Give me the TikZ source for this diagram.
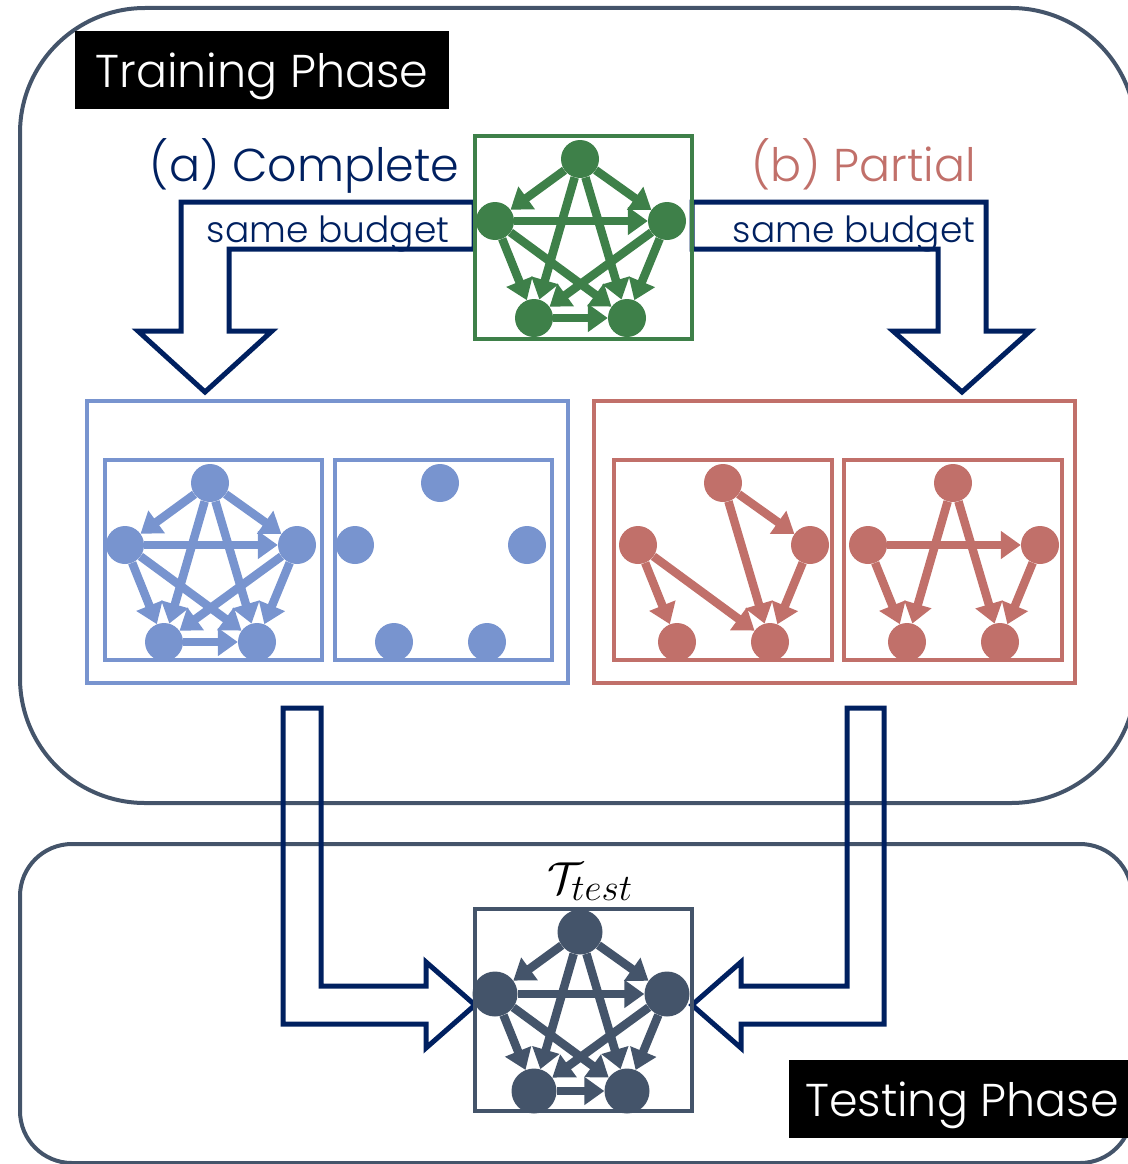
\documentclass[tikz,border=0pt]{standalone}
\usepackage{fontspec}
\setmainfont{Poppins Light}
\usetikzlibrary{arrows.meta}

\definecolor{navy}{HTML}{002060}
\definecolor{slate}{HTML}{44546A}
\definecolor{leaf}{HTML}{3E8049}
\definecolor{sky}{HTML}{7894CF}
\definecolor{rose}{HTML}{C1706A}

% five nodes of a pentagon, placed from the top left corner of their box
\newcommand{\pentanodes}[4]{%
  \begin{scope}[shift={(#2)}]
    \node[gnode, fill=#3, minimum size=#4] (#1t) at (105,23) {};
    \node[gnode, fill=#3, minimum size=#4] (#1l) at (20,85) {};
    \node[gnode, fill=#3, minimum size=#4] (#1r) at (192,85) {};
    \node[gnode, fill=#3, minimum size=#4] (#1bl) at (59,182) {};
    \node[gnode, fill=#3, minimum size=#4] (#1br) at (152,182) {};
  \end{scope}}

% all ten edges of the pentagon
\newcommand{\fullarcs}[2]{%
  \draw[gedge, #2] (#1t) edge (#1l) edge (#1r) edge (#1bl) edge (#1br)
    (#1l) edge (#1r) edge (#1bl) edge (#1br)
    (#1r) edge (#1bl) edge (#1br)
    (#1bl) edge (#1br);}

\begin{document}
\begin{tikzpicture}[
    x=1pt, y=-1pt,
    phasebox/.style={draw=slate, line width=4pt},
    phasetag/.style={fill=black, text=white, inner sep=0pt, minimum height=78pt,
      text height=34pt, text depth=0pt, font=\fontsize{46}{54}\selectfont},
    casetext/.style={font=\fontsize{46}{54}\selectfont},
    budgettext/.style={text=navy, font=\fontsize{36}{42}\selectfont},
    gbox/.style={draw, line width=4pt, anchor=north west, outer sep=0pt, inner sep=0pt},
    gnode/.style={circle, inner sep=0pt},
    gedge/.style={line width=8.5pt, -{Triangle[length=20pt, width=27pt]}},
    blockarrow/.style={draw=navy, line width=5pt, line join=miter}
    ]
\useasboundingbox (0,0) rectangle (1127,1164);

\draw[phasebox, rounded corners=125pt] (20,8) rectangle (1136,803);
\draw[phasebox, rounded corners=52pt] (20,844) rectangle (1132,1163);

\node[phasetag, minimum width=374pt] (train) at (262,70) {Training Phase};
\node[phasetag, minimum width=346pt] (test) at (962,1099) {Testing Phase};

\draw[blockarrow] (474,202) -- (181,202) -- (181,331) -- (138,331) -- (205,392)
  -- (272,331) -- (229,331) -- (229,249) -- (474,249) -- cycle;
\draw[blockarrow] (692,202) -- (986,202) -- (986,331) -- (1030,331) -- (962,392)
  -- (893,331) -- (938,331) -- (938,249) -- (692,249) -- cycle;
\draw[blockarrow] (283,708) -- (321,708) -- (321,986) -- (426,986) -- (426,962)
  -- (475,1005) -- (426,1048) -- (426,1024) -- (283,1024) -- cycle;
\draw[blockarrow] (884,708) -- (847,708) -- (847,986) -- (741,986) -- (741,962)
  -- (692,1005) -- (741,1048) -- (741,1024) -- (884,1024) -- cycle;

\node[casetext, text=navy, anchor=base east] (complete) at (463,181) {(a) Complete};
\node[casetext, text=rose, anchor=base west] (partial) at (748,181) {(b) Partial};
\node[budgettext, anchor=base] (lbudget) at (328,242) {same budget};
\node[budgettext, anchor=base] (rbudget) at (854,242) {same budget};

\node[gbox, draw=leaf, minimum width=217pt, minimum height=203pt] (src) at (475,136) {};
\node[gbox, draw=sky, minimum width=481pt, minimum height=282pt] (full) at (87,401) {};
\node[gbox, draw=sky, minimum width=217pt, minimum height=200pt] (fulla) at (105,460) {};
\node[gbox, draw=sky, minimum width=217pt, minimum height=200pt] (fullb) at (335,460) {};
\node[gbox, draw=rose, minimum width=481pt, minimum height=282pt] (part) at (594,401) {};
\node[gbox, draw=rose, minimum width=218pt, minimum height=200pt] (parta) at (614,460) {};
\node[gbox, draw=rose, minimum width=218pt, minimum height=200pt] (partb) at (844,460) {};
\node[gbox, draw=slate, minimum width=217pt, minimum height=202pt] (tgt) at (475,909) {};

\node[font=\fontsize{24.88}{30}\selectfont, anchor=base] (tlabel) at (590,893) {\scalebox{1.8}{$\mathcal{T}_{test}$}};

\pentanodes{s}{475,136}{leaf}{38pt}
\pentanodes{f}{105,460}{sky}{38pt}
\pentanodes{e}{335,460}{sky}{38pt}
\pentanodes{p}{618,460}{rose}{38pt}
\pentanodes{q}{848,460}{rose}{38pt}
\pentanodes{t}{475,909}{slate}{45pt}

\fullarcs{s}{leaf}
\fullarcs{f}{sky}
\fullarcs{t}{slate}

\draw[gedge, rose] (pt) edge (pr) edge (pbr)
  (pl) edge (pbl) edge (pbr)
  (pr) edge (pbr);
\draw[gedge, rose] (qt) edge (qbl) edge (qbr)
  (ql) edge (qr) edge (qbl)
  (qr) edge (qbr);
\end{tikzpicture}
\end{document}
